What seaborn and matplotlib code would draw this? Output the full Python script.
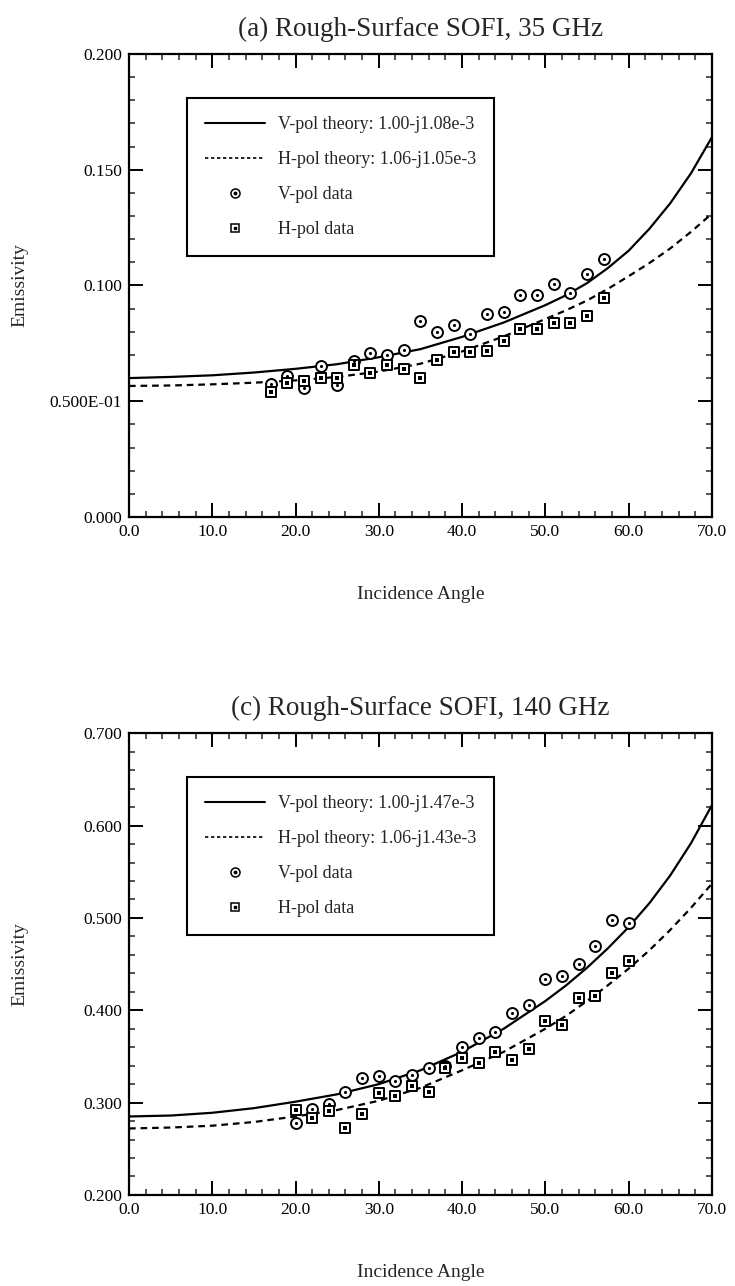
import numpy as np
import pandas as pd
import matplotlib
matplotlib.use("Agg")
import matplotlib.pyplot as plt
from matplotlib.lines import Line2D
from matplotlib.legend_handler import HandlerTuple
from matplotlib.ticker import MultipleLocator
import seaborn as sns

# ---------------- data ----------------
theory_angle = [0, 5, 10, 15, 20, 25, 30, 35, 40, 45, 50, 52.5, 55, 57.5, 60, 62.5, 65, 67.5, 70]

# (a) 35 GHz
a_v_theory = [0.0600, 0.0605, 0.0612, 0.0624, 0.0640, 0.0660, 0.0690, 0.0725, 0.0778, 0.0840,
              0.0915, 0.0958, 0.1010, 0.1075, 0.1150, 0.1245, 0.1355, 0.1485, 0.1640]
a_h_theory = [0.0566, 0.0568, 0.0573, 0.0580, 0.0590, 0.0605, 0.0628, 0.0662, 0.0715, 0.0780,
              0.0855, 0.0893, 0.0935, 0.0985, 0.1040, 0.1097, 0.1160, 0.1232, 0.1310]
a_angle = [17, 19, 21, 23, 25, 27, 29, 31, 33, 35, 37, 39, 41, 43, 45, 47, 49, 51, 53, 55, 57]
a_v_data = [0.0574, 0.0611, 0.0557, 0.0654, 0.0571, 0.0675, 0.0709, 0.0700, 0.0721, 0.0847,
            0.0800, 0.0828, 0.0790, 0.0876, 0.0887, 0.0957, 0.0957, 0.1007, 0.0969, 0.1049, 0.1115]
a_h_data = [0.0542, 0.0578, 0.0589, 0.0602, 0.0600, 0.0657, 0.0624, 0.0657, 0.0639, 0.0600,
            0.0678, 0.0711, 0.0711, 0.0718, 0.0762, 0.0810, 0.0810, 0.0840, 0.0838, 0.0868, 0.0947]

# (c) 140 GHz
c_v_theory = [0.285, 0.286, 0.289, 0.294, 0.301, 0.309, 0.320, 0.335, 0.355, 0.380,
              0.410, 0.427, 0.446, 0.467, 0.490, 0.516, 0.546, 0.581, 0.622]
c_h_theory = [0.272, 0.273, 0.275, 0.279, 0.285, 0.292, 0.302, 0.316, 0.335, 0.355,
              0.380, 0.394, 0.410, 0.427, 0.445, 0.465, 0.487, 0.511, 0.537]
c_angle = [20, 22, 24, 26, 28, 30, 32, 34, 36, 38, 40, 42, 44, 46, 48, 50, 52, 54, 56, 58, 60]
c_v_data = [0.278, 0.293, 0.298, 0.312, 0.327, 0.329, 0.323, 0.330, 0.338, 0.340, 0.360,
            0.370, 0.377, 0.397, 0.406, 0.434, 0.437, 0.450, 0.470, 0.498, 0.495]
c_h_data = [0.292, 0.283, 0.291, 0.273, 0.288, 0.310, 0.307, 0.318, 0.311, 0.338, 0.348,
            0.343, 0.355, 0.346, 0.358, 0.388, 0.384, 0.413, 0.415, 0.440, 0.453]

x_ticks = [0, 10, 20, 30, 40, 50, 60, 70]
x_ticklabels = ["0.0", "10.0", "20.0", "30.0", "40.0", "50.0", "60.0", "70.0"]
a_yticks = [0.0, 0.05, 0.10, 0.15, 0.20]
a_yticklabels = ["0.000", "0.500E-01", "0.100", "0.150", "0.200"]
c_yticks = [0.2, 0.3, 0.4, 0.5, 0.6, 0.7]
c_yticklabels = ["0.200", "0.300", "0.400", "0.500", "0.600", "0.700"]

a_title = "(a) Rough-Surface SOFI, 35 GHz"
c_title = "(c) Rough-Surface SOFI, 140 GHz"
a_labels = ["V-pol theory: 1.00-j1.08e-3", "H-pol theory: 1.06-j1.05e-3", "V-pol data", "H-pol data"]
c_labels = ["V-pol theory: 1.00-j1.47e-3", "H-pol theory: 1.06-j1.43e-3", "V-pol data", "H-pol data"]

# ---------------- style ----------------
sns.set_theme(style="ticks")
plt.rcParams["font.family"] = ["Liberation Serif", "DejaVu Serif"]
plt.rcParams["axes.linewidth"] = 1.6

fig = plt.figure(figsize=(7.35, 12.86), dpi=100)
ax1 = fig.add_axes([0.1755, 0.598, 0.793, 0.360])
ax2 = fig.add_axes([0.1755, 0.0708, 0.793, 0.359])

DASH = (0, (3.0, 2.2))


def panel(ax, v_th, h_th, ang, v_dat, h_dat, yticks, yticklabels, ylim, yminor, title, labels):
    sns.lineplot(x=theory_angle, y=v_th, ax=ax, color="black", lw=1.6, linestyle="-")
    sns.lineplot(x=theory_angle, y=h_th, ax=ax, color="black", lw=1.6, linestyle=DASH)
    sns.scatterplot(x=ang, y=v_dat, ax=ax, marker="o", s=62, facecolor="white",
                    edgecolor="black", linewidth=1.4, zorder=3)
    sns.scatterplot(x=ang, y=v_dat, ax=ax, marker="o", s=5, color="black", linewidth=0, zorder=4)
    sns.scatterplot(x=ang, y=h_dat, ax=ax, marker="s", s=50, facecolor="white",
                    edgecolor="black", linewidth=1.4, zorder=3)
    sns.scatterplot(x=ang, y=h_dat, ax=ax, marker="s", s=5, color="black", linewidth=0, zorder=4)

    ax.set_xlim(0, 70)
    ax.set_ylim(*ylim)
    ax.set_xticks(x_ticks, labels=x_ticklabels)
    ax.set_yticks(yticks, labels=yticklabels)
    ax.xaxis.set_minor_locator(MultipleLocator(2))
    ax.yaxis.set_minor_locator(MultipleLocator(yminor))
    ax.tick_params(which="major", direction="in", length=10, width=1.4,
                   top=True, right=True, labelsize=12.5, pad=5, colors="black")
    ax.tick_params(which="minor", direction="in", length=4.5, width=1.1,
                   top=True, right=True)
    for sp in ax.spines.values():
        sp.set_visible(True)
        sp.set_color("black")
    ax.set_xlabel("Incidence Angle", fontsize=14, labelpad=33)
    ax.set_ylabel("Emissivity", fontsize=14)
    ax.yaxis.set_label_coords(-0.172, 0.5)
    ax.set_title(title, fontsize=19.5, pad=13)

    h_v = Line2D([], [], color="black", lw=1.5, linestyle="-")
    h_h = Line2D([], [], color="black", lw=1.2, linestyle=(0, (2.0, 1.6)))
    m_c = (Line2D([], [], marker="o", ms=6.5, mfc="white", mec="black", mew=1.1, ls=""),
           Line2D([], [], marker="o", ms=1.8, mfc="black", mec="black", ls=""))
    m_s = (Line2D([], [], marker="s", ms=6, mfc="white", mec="black", mew=1.1, ls=""),
           Line2D([], [], marker="s", ms=1.8, mfc="black", mec="black", ls=""))
    leg = ax.legend([h_v, h_h, m_c, m_s], labels, loc="upper left",
                    bbox_to_anchor=(0.10, 0.905), fontsize=13, frameon=True,
                    fancybox=False, framealpha=1, edgecolor="black",
                    handlelength=3.3, handletextpad=0.7, labelspacing=1.0,
                    borderpad=1.0, borderaxespad=0,
                    handler_map={tuple: HandlerTuple(ndivide=1, pad=0)})
    leg.get_frame().set_linewidth(1.5)


panel(ax1, a_v_theory, a_h_theory, a_angle, a_v_data, a_h_data,
      a_yticks, a_yticklabels, (0.0, 0.2), 0.01, a_title, a_labels)
panel(ax2, c_v_theory, c_h_theory, c_angle, c_v_data, c_h_data,
      c_yticks, c_yticklabels, (0.2, 0.7), 0.02, c_title, c_labels)

fig.savefig("out.png", dpi=100)
